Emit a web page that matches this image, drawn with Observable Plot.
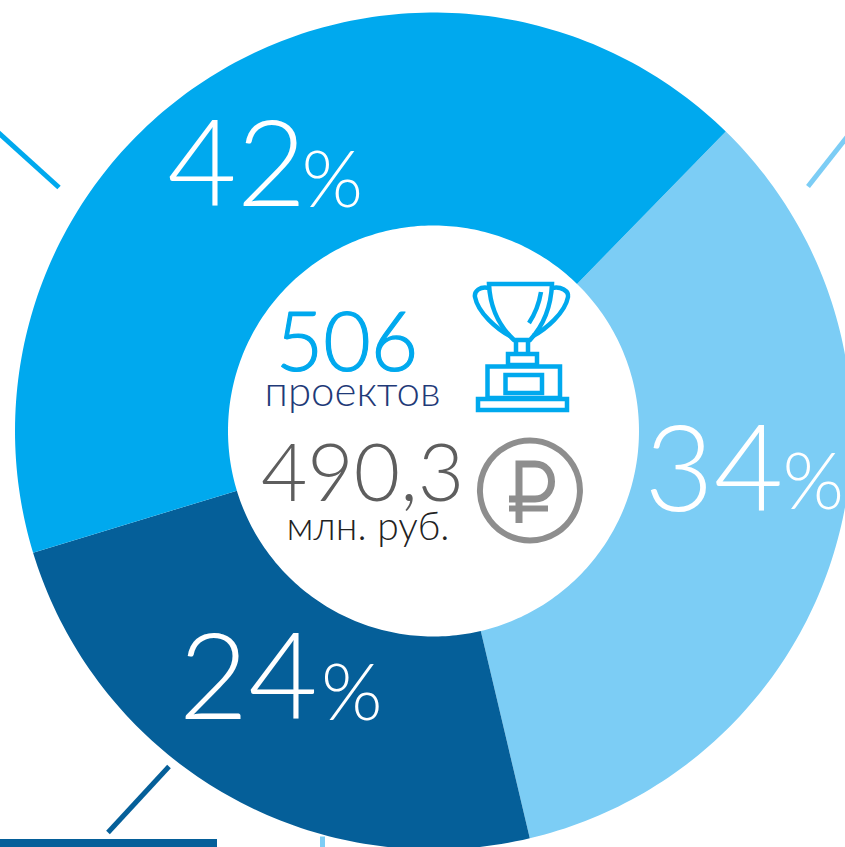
<!DOCTYPE html>
<html lang="ru">
<head>
<meta charset="utf-8">
<style>html,body{margin:0;padding:0;background:#fff;overflow:hidden}svg{display:block}</style>
<script src="https://cdn.jsdelivr.net/npm/d3@7"></script>
<script src="https://cdn.jsdelivr.net/npm/@observablehq/plot@0.6"></script>
</head>
<body>
<div id="chart"></div>
<script>
const categories = ["a", "b", "c"];
const shares = [34, 24, 42];
const colors = ["#7ccdf5", "#055f99", "#00a9ee"];
const totalProjects = "506";
const projectsUnit = "проектов";
const totalSum = "490,3";
const sumUnit = "млн. руб.";

const W = 845, H = 847, CX = 433.5, CY = 431, R = 418.5, r = 205.5;
const START = 44.3;
const rad = a => a * Math.PI / 180;
const px = (a, q) => q * Math.sin(rad(a));
const py = (a, q) => -q * Math.cos(rad(a));

let acc = START;
const slices = categories.map((c, i) => {
  const a0 = acc, a1 = acc + shares[i] * 3.6;
  acc = a1;
  return {c, a0, a1, mid: (a0 + a1) / 2, share: shares[i]};
});
const ringPts = slices.flatMap(s => {
  const n = Math.ceil(s.a1 - s.a0);
  return d3.range(n + 1).map(k => {
    const a = s.a0 + (s.a1 - s.a0) * k / n;
    return {c: s.c, x1: px(a, R), y1: py(a, R), x2: px(a, r), y2: py(a, r)};
  });
});

const font = "Lato, sans-serif";
const labelOffsets = {
  a: {q: 0.75, ndx: 47, ndy: -43, pdx: 46, pdy: -31.9},
  b: {q: 0.70, ndx: 30, ndy: -4.4, pdx: 33, pdy: 9.1},
  c: {q: 0.72, ndx: 29, ndy: -6.4, pdx: 24, pdy: 8.1}
};
const labelMarks = slices.flatMap(s => {
  const o = labelOffsets[s.c];
  const d = [{x: px(s.mid, R * o.q), y: py(s.mid, R * o.q), share: s.share}];
  return [
    Plot.text(d, {x: "x", y: "y", text: v => String(v.share), fill: "#fff", fontSize: 120, fontWeight: 300, fontFamily: font, textAnchor: "end", dx: o.ndx, dy: o.ndy}),
    Plot.text(d, {x: "x", y: "y", text: () => "%", fill: "#fff", fontSize: 79, fontWeight: 300, fontFamily: font, textAnchor: "start", dx: o.pdx, dy: o.pdy})
  ];
});

const center = [{x: 0, y: 0}];
const centerText = (text, fill, fontSize, dx, dy, extra = {}) =>
  Plot.text(center, {x: "x", y: "y", text: () => text, fill, fontSize, fontWeight: 300, fontFamily: font, textAnchor: "middle", dx, dy, ...extra});

const leaders = [
  {x1: -450, y1: -312, x2: -375, y2: -244, c: "c"},
  {x1: 415, y1: -297, x2: 374, y2: -245, c: "a"},
  {x1: -265, y1: 335, x2: -326, y2: 401, c: "b"},
  {x1: -111.5, y1: 405, x2: -111.5, y2: 420, c: "a"}
];
const footerBar = [{x1: -CX, x2: 217 - CX, y1: 839 - CY, y2: H - CY}];

function icons() {
  const ns = "http://www.w3.org/2000/svg";
  const g = document.createElementNS(ns, "g");
  g.setAttribute("fill", "none");
  g.setAttribute("stroke-linejoin", "miter");
  const add = (d, stroke, sw) => {
    const p = document.createElementNS(ns, "path");
    p.setAttribute("d", d); p.setAttribute("stroke", stroke); p.setAttribute("stroke-width", sw);
    g.appendChild(p);
  };
  const blue = "#00a9ee", grey = "#8e8e8e";
  add("M489 284H552C551 308 543 326 530 340H514C499 326 490 308 489 284Z", blue, 4.5);
  add("M489 288C480 286 474 291 475 297C478 313 497 329 510 336", blue, 4.5);
  add("M552 288C561 286 569 291 568 297C565 313 546 329 533 336", blue, 4.5);
  add("M541 292C539 304 535 314 529 323", blue, 4.5);
  add("M516 340V354M528 340V354", blue, 4.5);
  add("M508 354H537V365H508Z", blue, 4.5);
  add("M487.5 366.5H560V398H487.5Z", blue, 4.5);
  add("M505.5 375H542V393H505.5Z", blue, 4.5);
  add("M478 399H567V410H478Z", blue, 4.5);
  add("M530 440.5A50 50 0 1 1 529.9 440.5Z", grey, 6);
  add("M519 523V464H535C557 464 557 499 535 499H509", grey, 7);
  add("M509 508.5H548", grey, 6);
  return g;
}

const chart = Plot.plot({
  width: W, height: H,
  margin: 0,
  style: {background: "#fff"},
  x: {domain: [-CX, W - CX], range: [0, W], axis: null},
  y: {domain: [-CY, H - CY], range: [0, H], axis: null},
  color: {domain: categories, range: colors},
  marks: [
    Plot.area(ringPts, {x1: "x1", y1: "y1", x2: "x2", y2: "y2", z: "c", fill: "c", curve: "linear"}),
    Plot.link(leaders, {x1: "x1", y1: "y1", x2: "x2", y2: "y2", stroke: "c", strokeWidth: 5}),
    Plot.rect(footerBar, {x1: "x1", x2: "x2", y1: "y1", y2: "y2", fill: "#055f99"}),
    ...labelMarks,
    centerText(totalProjects, "#00a9ee", 82, -87, -87, {stroke: "#00a9ee", strokeWidth: 1.2}),
    centerText(projectsUnit, "#1f3a78", 42, -81.5, -39),
    centerText(totalSum, "#5e5e5e", 80, -71.5, 44),
    centerText(sumUnit, "#222", 39, -66, 96.5),
    icons
  ]
});
document.getElementById("chart").appendChild(chart);
</script>
</body>
</html>
